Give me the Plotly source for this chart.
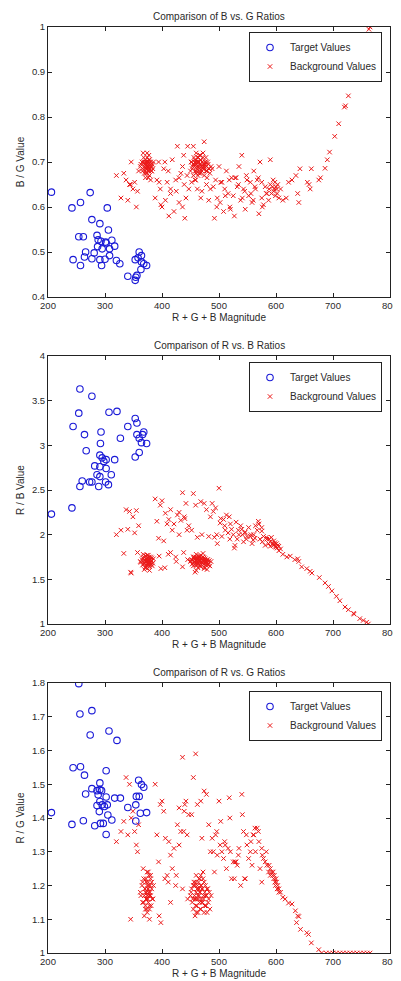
import plotly.graph_objects as go

# ---------------- Target values (blue circles) ----------------
t1_x = [206, 242, 257, 274, 304, 277, 291, 254, 262, 306, 286, 288, 293, 301, 302, 312, 317, 287, 295,
        308, 266, 281, 244, 264, 277, 291, 300, 308, 294, 257, 320, 326, 340, 354, 353, 360, 358, 353,
        364, 364, 368, 373, 363, 356]
t1_y = [0.633, 0.598, 0.610, 0.632, 0.598, 0.572, 0.563, 0.534, 0.534, 0.549, 0.537, 0.527, 0.524, 0.522,
        0.520, 0.526, 0.513, 0.512, 0.507, 0.507, 0.500, 0.498, 0.483, 0.489, 0.485, 0.483, 0.484, 0.492,
        0.470, 0.470, 0.481, 0.474, 0.446, 0.444, 0.437, 0.500, 0.487, 0.483, 0.492, 0.478, 0.474, 0.470,
        0.461, 0.448]

t2_x = [206, 242, 256, 277, 254, 244, 307, 321, 264, 267, 293, 292, 327, 340, 353, 356, 356, 366, 368,
        360, 364, 373, 353, 360, 291, 295, 298, 302, 317, 282, 291, 302, 286, 291, 311, 260, 273, 277,
        301, 306, 256, 289]
t2_y = [2.23, 2.30, 3.63, 3.55, 3.36, 3.21, 3.37, 3.38, 3.12, 2.94, 3.15, 3.02, 3.08, 3.21, 3.30, 3.25,
        3.12, 3.12, 3.15, 3.08, 3.03, 3.02, 2.87, 2.92, 2.89, 2.86, 2.82, 2.84, 2.84, 2.77, 2.76, 2.74,
        2.67, 2.65, 2.67, 2.60, 2.59, 2.59, 2.59, 2.56, 2.54, 2.54]

t3_x = [254, 256, 277, 274, 307, 321, 244, 257, 264, 302, 359, 364, 368, 291, 277, 286, 291, 294, 266,
        288, 302, 317, 327, 355, 360, 291, 295, 286, 299, 304, 340, 354, 206, 290, 305, 373, 362, 312,
        354, 262, 242, 292, 297, 282, 302]
t3_y = [1.798, 1.708, 1.718, 1.646, 1.658, 1.630, 1.549, 1.552, 1.527, 1.540, 1.512, 1.499, 1.491, 1.504,
        1.487, 1.481, 1.484, 1.481, 1.471, 1.469, 1.462, 1.459, 1.459, 1.464, 1.464, 1.449, 1.439, 1.437,
        1.434, 1.439, 1.431, 1.439, 1.416, 1.419, 1.409, 1.416, 1.414, 1.394, 1.391, 1.392, 1.381, 1.384,
        1.384, 1.377, 1.351]

# ---------------- Background values (red x) ----------------
# magnitude shared by the three panels (clusters + scattered band)
bg_x = [362, 365, 366, 368, 369, 370, 371, 372, 372, 373, 374, 374, 375, 375, 376, 376, 377, 378, 378, 379,
        380, 381, 382, 383, 385, 367, 371, 377, 380, 373,
        363, 366, 368, 370, 371, 372, 373, 374, 375, 376, 377, 378, 379, 380, 382, 369, 374, 376, 378, 384,
        450, 452, 454, 455, 456, 457, 458, 459, 460, 460, 461, 462, 463, 463, 464, 465, 465, 466, 467, 468,
        468, 469, 470, 471, 472, 473, 474, 475, 476, 477, 478, 480, 482, 484, 486, 458, 466, 472, 479, 462,
        451, 453, 456, 458, 459, 461, 462, 464, 465, 466, 467, 469, 470, 471, 473, 474, 476, 477, 479, 481,
        483, 460, 468, 475, 455,
        320, 328, 333, 337, 340, 343, 346, 349, 352, 355,
        357, 359, 388, 391, 394, 397, 400, 403, 406, 409,
        412, 415, 418, 421, 424, 427, 430, 433, 436, 439,
        442, 445, 447, 436, 440, 444, 490, 492, 494, 497,
        500, 502, 505, 508, 510, 513, 516, 519, 522, 525,
        528, 530, 532, 535, 538, 540, 543, 546, 549, 552,
        555, 558, 561, 564, 567, 570, 572, 575, 578, 581,
        584, 587, 590, 345, 398, 411, 425, 438, 496, 503,
        511, 518, 527, 534, 541, 548, 556, 563, 569, 576,
        395, 405, 415, 430, 488, 520, 545, 560, 575, 583,
        455, 459, 462, 468, 474, 478, 482, 485, 452, 470,
        588, 590, 592, 594, 595, 596, 597, 598, 599, 600, 601, 602, 603, 605, 608]

bg_bg = [0.69, 0.70, 0.68, 0.71, 0.69, 0.695, 0.68, 0.70, 0.685, 0.69, 0.71, 0.675, 0.69, 0.70, 0.68, 0.695,
         0.705, 0.685, 0.67, 0.69, 0.70, 0.68, 0.69, 0.695, 0.70, 0.72, 0.665, 0.715, 0.66, 0.69,
         0.695, 0.685, 0.70, 0.69, 0.705, 0.675, 0.695, 0.685, 0.70, 0.69, 0.68, 0.70, 0.685, 0.695, 0.68,
         0.675, 0.72, 0.665, 0.705, 0.685,
         0.68, 0.70, 0.69, 0.67, 0.71, 0.69, 0.70, 0.68, 0.695, 0.72, 0.685, 0.70, 0.69, 0.67, 0.71, 0.69,
         0.70, 0.68, 0.695, 0.705, 0.675, 0.69, 0.70, 0.685, 0.71, 0.69, 0.67, 0.695, 0.70, 0.68, 0.69, 0.70,
         0.685, 0.675, 0.69, 0.66, 0.715, 0.72, 0.665, 0.70,
         0.70, 0.685, 0.695, 0.705, 0.68, 0.69, 0.71, 0.70, 0.675, 0.685, 0.715, 0.69, 0.68, 0.70, 0.695,
         0.685, 0.70, 0.71, 0.68, 0.695, 0.685, 0.675, 0.705, 0.69, 0.695,
         0.67, 0.62, 0.675, 0.66, 0.615, 0.65, 0.70, 0.64, 0.655, 0.60,
         0.635, 0.68, 0.62, 0.66, 0.70, 0.64, 0.60, 0.685, 0.615, 0.655,
         0.58, 0.63, 0.705, 0.59, 0.66, 0.735, 0.61, 0.675, 0.60, 0.65,
         0.62, 0.735, 0.64, 0.69, 0.575, 0.67, 0.645, 0.575, 0.66, 0.62,
         0.69, 0.61, 0.655, 0.59, 0.64, 0.68, 0.63, 0.60, 0.665, 0.625,
         0.665, 0.665, 0.645, 0.69, 0.615, 0.715, 0.64, 0.595, 0.66, 0.625,
         0.655, 0.61, 0.68, 0.64, 0.66, 0.585, 0.70, 0.62, 0.605, 0.645,
         0.63, 0.615, 0.705, 0.65, 0.605, 0.68, 0.635, 0.715, 0.60, 0.655,
         0.625, 0.66, 0.58, 0.65, 0.62, 0.67, 0.63, 0.645, 0.665, 0.60,
         0.655, 0.70, 0.64, 0.665, 0.685, 0.595, 0.635, 0.615, 0.655, 0.63,
         0.735, 0.66, 0.64, 0.62, 0.745, 0.65, 0.615, 0.64, 0.655, 0.635,
         0.64, 0.65, 0.63, 0.645, 0.66, 0.635, 0.64, 0.655, 0.625, 0.645, 0.64, 0.63, 0.65, 0.62, 0.64]

bg_rb = [1.70, 1.72, 1.66, 1.75, 1.68, 1.71, 1.64, 1.73, 1.69, 1.70, 1.77, 1.62, 1.71, 1.68, 1.74, 1.66,
         1.72, 1.69, 1.60, 1.70, 1.75, 1.67, 1.71, 1.65, 1.73, 1.78, 1.63, 1.68, 1.72, 1.70,
         1.69, 1.74, 1.67, 1.72, 1.70, 1.76, 1.65, 1.73, 1.68, 1.71, 1.75, 1.66, 1.72, 1.69, 1.74,
         1.61, 1.70, 1.77, 1.64, 1.68,
         1.70, 1.72, 1.68, 1.65, 1.75, 1.70, 1.73, 1.66, 1.71, 1.78, 1.69, 1.74, 1.70, 1.63, 1.76, 1.70,
         1.72, 1.67, 1.71, 1.74, 1.64, 1.69, 1.72, 1.68, 1.75, 1.70, 1.62, 1.71, 1.73, 1.66, 1.70, 1.72,
         1.68, 1.65, 1.70, 1.58, 1.76, 1.79, 1.61, 1.73,
         1.71, 1.67, 1.73, 1.69, 1.75, 1.66, 1.72, 1.68, 1.74, 1.70, 1.65, 1.73, 1.69, 1.71, 1.67,
         1.74, 1.70, 1.68, 1.72, 1.66, 1.71, 1.60, 1.77, 1.63, 1.75,
         2.00, 2.05, 1.79, 2.28, 2.06, 2.26, 1.57, 2.20, 2.02, 2.27,
         1.80, 2.10, 2.40, 2.15, 1.96, 2.33, 2.38, 1.93, 2.24, 2.12,
         2.17, 2.28, 2.05, 2.12, 1.75, 2.22, 2.00, 2.16, 2.47, 2.20,
         2.35, 1.72, 2.10, 1.64, 2.18, 2.05, 2.26, 1.97, 2.30, 1.90,
         2.52, 2.13, 1.98, 2.17, 2.10, 2.22, 2.02, 1.95, 2.06, 2.00,
         1.88, 2.14, 1.95, 2.00, 2.10, 2.06, 1.92, 2.03, 1.98, 2.08,
         1.98, 1.90, 2.00, 2.10, 2.05, 2.12, 1.95, 2.08, 1.98, 1.88,
         1.95, 1.90, 1.87, 1.58, 1.62, 1.78, 1.70, 1.80, 2.00, 2.18,
         2.05, 2.20, 1.85, 2.05, 2.00, 1.95, 2.00, 1.96, 2.15, 1.92,
         1.76, 1.63, 1.80, 2.25, 2.35, 2.12, 2.02, 1.94, 2.04, 1.97,
         2.46, 2.33, 1.97, 2.37, 2.35, 2.28, 1.98, 2.20, 2.05, 2.00,
         1.95, 1.92, 1.97, 1.90, 1.88, 1.93, 1.89, 1.91, 1.87, 1.86, 1.90, 1.85, 1.88, 1.87, 1.84]

bg_rg = [1.18, 1.20, 1.15, 1.22, 1.17, 1.19, 1.13, 1.21, 1.16, 1.18, 1.24, 1.12, 1.19, 1.17, 1.21, 1.15,
         1.20, 1.17, 1.10, 1.18, 1.23, 1.14, 1.19, 1.16, 1.20, 1.25, 1.14, 1.18, 1.22, 1.16,
         1.17, 1.21, 1.15, 1.19, 1.18, 1.22, 1.13, 1.20, 1.16, 1.19, 1.23, 1.14, 1.20, 1.17, 1.21,
         1.11, 1.17, 1.24, 1.13, 1.16,
         1.17, 1.19, 1.16, 1.13, 1.21, 1.17, 1.20, 1.14, 1.18, 1.23, 1.16, 1.20, 1.17, 1.12, 1.21, 1.17,
         1.19, 1.15, 1.18, 1.20, 1.13, 1.16, 1.19, 1.15, 1.22, 1.17, 1.12, 1.18, 1.20, 1.14, 1.17, 1.19,
         1.16, 1.13, 1.17, 1.11, 1.22, 1.24, 1.12, 1.19,
         1.18, 1.15, 1.20, 1.16, 1.21, 1.14, 1.19, 1.16, 1.22, 1.18, 1.13, 1.20, 1.15, 1.19, 1.16,
         1.21, 1.17, 1.14, 1.19, 1.15, 1.18, 1.12, 1.23, 1.14, 1.20,
         1.33, 1.36, 1.39, 1.52, 1.35, 1.50, 1.40, 1.42, 1.36, 1.32,
         1.30, 1.38, 1.50, 1.35, 1.27, 1.44, 1.45, 1.42, 1.34, 1.23,
         1.33, 1.29, 1.25, 1.31, 1.20, 1.38, 1.32, 1.36, 1.58, 1.42,
         1.45, 1.16, 1.41, 1.19, 1.44, 1.35, 1.30, 1.24, 1.35, 1.29,
         1.45, 1.32, 1.30, 1.28, 1.33, 1.25, 1.31, 1.40, 1.22, 1.27,
         1.27, 1.27, 1.26, 1.31, 1.20, 1.47, 1.36, 1.22, 1.32, 1.28,
         1.30, 1.26, 1.35, 1.30, 1.37, 1.33, 1.25, 1.31, 1.28, 1.27,
         1.26, 1.24, 1.23, 1.10, 1.09, 1.21, 1.23, 1.36, 1.36, 1.39,
         1.32, 1.46, 1.22, 1.29, 1.41, 1.35, 1.33, 1.37, 1.36, 1.29,
         1.11, 1.22, 1.15, 1.43, 1.34, 1.30, 1.22, 1.35, 1.21, 1.30,
         1.52, 1.59, 1.44, 1.45, 1.48, 1.47, 1.38, 1.30, 1.41, 1.34,
         1.26, 1.25, 1.24, 1.23, 1.24, 1.22, 1.23, 1.21, 1.20, 1.22, 1.21, 1.19, 1.20, 1.18, 1.18]

# bright tails, read separately for each panel
tail1_x = [612, 618, 622, 628, 635, 638, 640, 642, 655, 658, 660, 662, 675, 678, 686, 690, 694, 703, 710,
           720, 722, 727, 737, 739, 763, 765]
tail1_y = [0.615, 0.62, 0.655, 0.66, 0.67, 0.63, 0.61, 0.685, 0.655, 0.65, 0.64, 0.685, 0.66, 0.665, 0.686,
           0.705, 0.722, 0.757, 0.785, 0.822, 0.825, 0.847, 0.888, 0.898, 0.995, 1.0]
tail2_x = [605, 612, 619, 625, 633, 638, 640, 645, 654, 660, 663, 676, 686, 692, 698, 706, 712, 721, 727,
           736, 737, 747, 753, 759, 762]
tail2_y = [1.82, 1.78, 1.75, 1.76, 1.72, 1.73, 1.70, 1.64, 1.62, 1.59, 1.57, 1.52, 1.46, 1.42, 1.37, 1.31,
           1.26, 1.19, 1.16, 1.12, 1.11, 1.06, 1.04, 1.02, 1.00]
tail3_x = [605, 612, 616, 622, 628, 634, 638, 640, 636, 643, 654, 657, 662, 675, 680, 688, 694, 700, 706,
           712, 718, 724, 730, 736, 742, 748, 754, 760, 765]
tail3_y = [1.19, 1.165, 1.16, 1.148, 1.145, 1.125, 1.11, 1.108, 1.09, 1.07, 1.06, 1.055, 1.03, 1.01, 1.0,
           1.0, 1.0, 1.0, 1.0, 1.0, 1.0, 1.0, 1.0, 1.0, 1.0, 1.0, 1.0, 1.0, 1.0]

titles = ["Comparison of B vs. G Ratios", "Comparison of R vs. B Ratios", "Comparison of R vs. G Ratios"]
ylabels = ["B / G Value", "R / B Value", "R / G Value"]
xlabel = "R + G + B Magnitude"
xticks = [200, 300, 400, 500, 600, 700, 800]
yranges = [[0.4, 1.0], [1.0, 4.0], [1.0, 1.8]]
ydticks = [0.1, 0.5, 0.1]

# the page body adds an 8px margin before the figure
OFF = 8
W, H = 401 - OFF, 981 - OFF
L, R = 48 - OFF, 401 - 390
panels_px = [(27, 297), (356, 624), (683, 953)]   # top, bottom of each axes box (page pixels)
legend_top_px = [32, 362, 691]
legend_right_px = 382

FONT = "Liberation Sans, Arial, sans-serif"
BLUE = "rgb(25,25,215)"
RED = "rgb(235,25,25)"
TXT = "#2a2a2a"

panel_data = [
    (t1_x, t1_y, bg_x + tail1_x, bg_bg + tail1_y),
    (t2_x, t2_y, bg_x + tail2_x, bg_rb + tail2_y),
    (t3_x, t3_y, bg_x + tail3_x, bg_rg + tail3_y),
]

fig = go.Figure()
layout = {}
annotations = []
for i, (tx, ty, bx, by) in enumerate(panel_data):
    n = "" if i == 0 else str(i + 1)
    leg = "legend" if i == 0 else f"legend{i + 1}"
    fig.add_trace(go.Scatter(
        x=tx, y=ty, mode="markers", name="Target Values", legend=leg,
        xaxis="x" + n, yaxis="y" + n,
        marker=dict(symbol="circle-open", size=6.5, color=BLUE, line=dict(width=1.1, color=BLUE)),
    ))
    fig.add_trace(go.Scatter(
        x=bx, y=by, mode="markers", name="Background Values", legend=leg,
        xaxis="x" + n, yaxis="y" + n,
        marker=dict(symbol="x-thin-open", size=4.5, color=RED, line=dict(width=1, color=RED)),
    ))
    top, bot = panels_px[i][0] - OFF, panels_px[i][1] - OFF
    dom = [1 - bot / H, 1 - top / H]
    axis_common = dict(showline=True, linecolor="#222", linewidth=1, mirror="ticks",
                       ticks="inside", ticklen=4, tickcolor="#222", showgrid=False, zeroline=False,
                       automargin=False, tickfont=dict(family=FONT, size=9.5, color=TXT))
    layout["xaxis" + n] = dict(domain=[0, 1], anchor="y" + n, range=[200, 800], tickvals=xticks,
                               title=dict(text=xlabel, font=dict(family=FONT, size=10, color=TXT),
                                          standoff=3),
                               **axis_common)
    layout["yaxis" + n] = dict(domain=dom, anchor="x" + n, range=yranges[i], dtick=ydticks[i],
                               title=dict(text=ylabels[i], font=dict(family=FONT, size=10, color=TXT),
                                          standoff=5),
                               **axis_common)
    annotations.append(dict(text=titles[i], x=0.5, xref="paper", y=1 - (top - 11) / H, yref="paper",
                            xanchor="center", yanchor="middle", showarrow=False,
                            font=dict(family=FONT, size=10, color=TXT)))
    layout[leg] = dict(x=(legend_right_px - OFF - L) / (W - L - R), xanchor="right",
                       y=1 - (legend_top_px[i] - OFF) / H,
                       yanchor="top", bordercolor="#222", borderwidth=1, bgcolor="white",
                       font=dict(family=FONT, size=10, color=TXT), itemsizing="trace",
                       tracegroupgap=0)

fig.update_layout(width=W, height=H, margin=dict(l=L, r=R, t=0, b=0), showlegend=True,
                  paper_bgcolor="white", plot_bgcolor="white", annotations=annotations, **layout)
fig.write_html("out.html")
